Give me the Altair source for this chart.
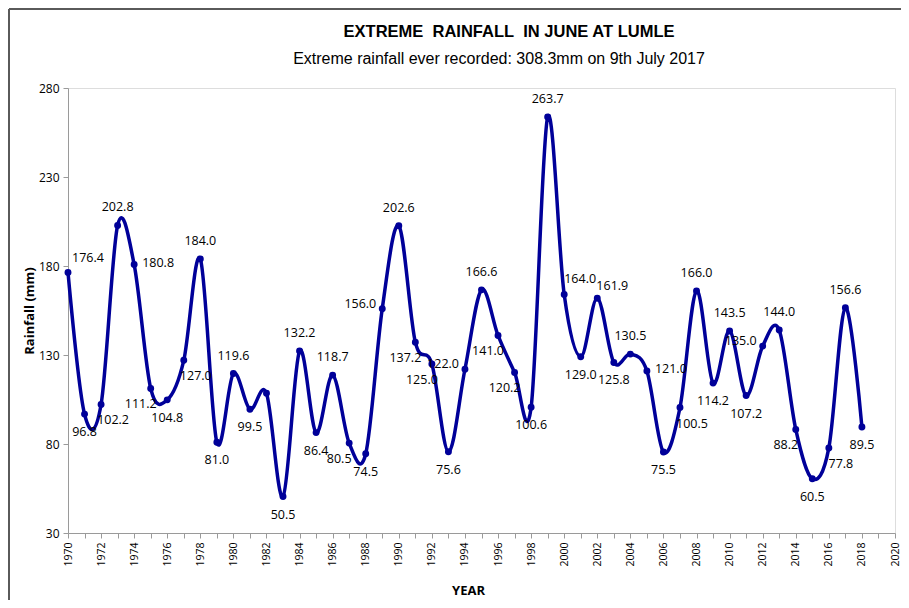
import altair as alt
import pandas as pd

# ---- data ----
years = list(range(1970, 2019))
rainfall = [176.4, 96.8, 102.2, 202.8, 180.8, 111.2, 104.8, 127.0, 184.0, 81.0,
            119.6, 99.5, 108.5, 50.5, 132.2, 86.4, 118.7, 80.5, 74.5, 156.0,
            202.6, 137.2, 125.0, 75.6, 122.0, 166.6, 141.0, 120.2, 100.6, 263.7,
            164.0, 129.0, 161.9, 125.8, 130.5, 121.0, 75.5, 100.5, 166.0, 114.2,
            143.5, 107.2, 135.0, 144.0, 88.2, 60.5, 77.8, 156.6, 89.5]
unlabeled_years = [1982]
x_ticks = list(range(1970, 2021))
y_ticks = [30, 80, 130, 180, 230, 280]

title_text = "EXTREME\u00a0 RAINFALL\u00a0 IN JUNE AT LUMLE"
subtitle_text = "Extreme rainfall ever recorded: 308.3mm on 9th July 2017"

# ---- label placement derived from the shape of the series ----
def placement(i):
    v = rainfall[i]
    prev = rainfall[i - 1] if i > 0 else None
    nxt = rainfall[i + 1] if i < len(rainfall) - 1 else None
    if prev is None:
        return "top_right" if v > nxt else "bottom_right"
    if nxt is None:
        return "top" if v > prev else "bottom"
    if v > prev and v > nxt:
        return "top"
    if v < prev and v < nxt:
        return "bottom"
    rising = nxt > prev
    if v >= (prev + nxt) / 2:
        return "left" if rising else "right"
    if not rising and prev - v > 90:      # steep drop just before: free space above-right
        return "steep"
    return "bottom_right" if rising else "bottom_left"

pos = [placement(i) for i in range(len(years))]
# simple collision avoidance between nearby labels
for i in range(len(pos) - 2):
    if pos[i] == "right" and pos[i + 2] == "left":
        pos[i] = "bottom_left"
    if pos[i] == "steep" and pos[i + 2] == "top":
        pos[i + 2] = "top_shift"

df = pd.DataFrame({
    "year": years,
    "rain": rainfall,
    "label": ["" if y in unlabeled_years else f"{v:.1f}" for y, v in zip(years, rainfall)],
    "pos": pos,
})

W, H = 827, 445
LINE = "#000099"

x = alt.X("year:Q",
          scale=alt.Scale(domain=[1970, 2020], nice=False, zero=False),
          axis=alt.Axis(values=x_ticks, tickCount=len(x_ticks), format="d",
                        labelExpr="datum.value % 2 == 0 ? datum.label : ''",
                        labelAngle=-90, labelFontSize=10.5, labelFont="Open Sans",
                        labelPadding=4, labelOverlap=False, labelFlush=False,
                        tickSize=5, tickColor="#9a9a9a", domainColor="#9a9a9a",
                        labelColor="black", grid=False,
                        title="YEAR", titleFont="Open Sans", titleFontSize=13,
                        titleFontWeight="bold", titleColor="black",
                        titleX=400, titleY=57, titleBaseline="middle",
                        titleAnchor="start", titleAlign="center"))
y = alt.Y("rain:Q",
          scale=alt.Scale(domain=[30, 280], nice=False, zero=False),
          axis=alt.Axis(values=y_ticks, labelFontSize=12, labelFont="Open Sans",
                        labelPadding=4, tickSize=5, tickColor="#9a9a9a",
                        domainColor="#9a9a9a", labelColor="black", grid=False,
                        title="Rainfall (mm)", titleFont="Open Sans", titleFontSize=13,
                        titleFontWeight="bold", titleColor="black",
                        titleX=-39, titleY=H / 2, titleAngle=-90,
                        titleAlign="center", titleBaseline="middle"))

base = alt.Chart(df)
line = base.mark_line(interpolate="cardinal", color=LINE, strokeWidth=3.5).encode(x=x, y=y)
pts = base.mark_circle(color=LINE, size=48, opacity=1).encode(x=x, y=y)

# (dx, dy, align) for each placement
offsets = {
    "top": (0, -18, "center"),
    "top_shift": (15, -12, "center"),
    "top_right": (4, -14, "left"),
    "steep": (0, -15, "left"),
    "left": (-6, -5, "right"),
    "right": (8, -2, "left"),
    "bottom": (0, 18, "center"),
    "bottom_left": (-10, 16, "center"),
    "bottom_right": (12, 16, "center"),
}
label_layers = []
for p, (dx, dy, al) in offsets.items():
    label_layers.append(
        base.transform_filter(alt.datum.pos == p)
        .mark_text(font="Open Sans", fontSize=12.5, color="black",
                   dx=dx, dy=dy, baseline="middle", align=al)
        .encode(x="year:Q", y="rain:Q", text="label:N")
    )

frame_top = base.mark_rule(color="#5a5a5a", strokeWidth=2).encode(
    x=alt.value(-59), x2=alt.value(W + 10), y=alt.value(-79))
frame_left = base.mark_rule(color="#5a5a5a", strokeWidth=2).encode(
    x=alt.value(-59), y=alt.value(-79), y2=alt.value(H + 80))

title_df = pd.DataFrame({"t": [title_text]})
sub_df = pd.DataFrame({"t": [subtitle_text]})
title_mark = alt.Chart(title_df).mark_text(
    font="Liberation Sans", fontSize=16.5, fontWeight="bold", color="black",
    align="center", baseline="middle").encode(
    text="t:N", x=alt.value(441), y=alt.value(-56))
sub_mark = alt.Chart(sub_df).mark_text(
    font="Liberation Sans", fontSize=16, color="black",
    align="center", baseline="middle").encode(
    text="t:N", x=alt.value(431), y=alt.value(-29))

chart = alt.layer(frame_top, frame_left, title_mark, sub_mark, line, pts,
                  *label_layers).properties(
    width=W, height=H,
    autosize=alt.AutoSizeParams(type="none"),
    padding={"left": 60, "top": 80, "right": 6, "bottom": 67},
).configure_view(stroke=None).configure(background="white")

chart.save("out.html", embed_options={"renderer": "svg", "actions": False})
